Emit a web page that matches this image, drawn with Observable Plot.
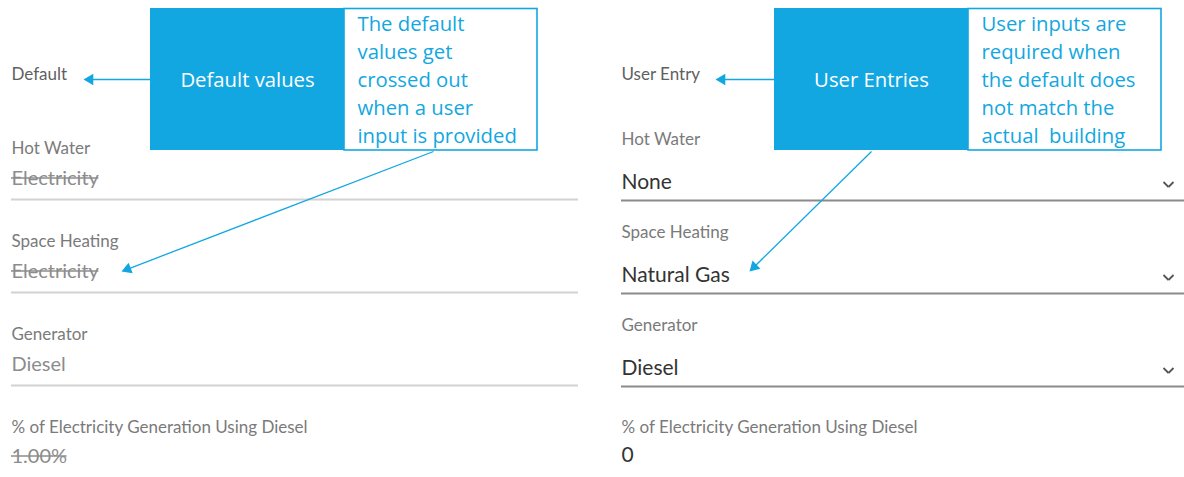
<!DOCTYPE html>
<html><head><meta charset="utf-8">
<script src="https://cdn.jsdelivr.net/npm/d3@7"></script>
<script src="https://cdn.jsdelivr.net/npm/@observablehq/plot@0.6"></script>
<style>body{margin:0;background:#fff}</style>
</head><body><div id="chart"></div>
<script>
// ---------- content ----------
const panelHeaders = ["Default", "User Entry"];
const fieldLabels = ["Hot Water", "Space Heating", "Generator", "% of Electricity Generation Using Diesel"];
const defaultValues = ["Electricity", "Electricity", "Diesel", "1.00%"];
const defaultCrossedOut = [true, true, false, true];
const userValues = ["None", "Natural Gas", "Diesel", "0"];
const userHasDropdown = [true, true, true, false];
const calloutTitles = ["Default values", "User Entries"];
const calloutNotes = [
  ["The default", "values get", "crossed out", "when a user", "input is provided"],
  ["User inputs are", "required when", "the default does", "not match the", "actual  building"]
];

// ---------- layout ----------
const W = 1184, H = 477;
const BLUE = "#12a7e1";
const UI = "Lato, 'Open Sans', sans-serif";
const CAL = "'Open Sans', Lato, sans-serif";
const LABEL_FS = 17, DEF_FS = 20, USER_FS = 21, CAL_FS = 20.3;
const headerY = 74, boxTop = 8, boxBottom = 150, boxW = 194, noteW = 193;
const layout = [
  {x: 11, lineEnd: 578, labelY: [148, 241, 334, 427], valueY: [178, 271, 364, 456], ruleY: [199, 292, 385],
   box: 150, tip: 83, diagFrom: [433, 151], diagTo: [121, 271]},
  {x: 621, lineEnd: 1184, labelY: [139, 232, 325, 427], valueY: [182, 275, 368, 455], ruleY: [200, 293, 386],
   box: 774, tip: 715, diagFrom: [871, 151], diagTo: [749, 271]}
];

const ctx = document.createElement("canvas").getContext("2d");
function textWidth(t, fs, family) { ctx.font = `${fs}px ${family}`; return ctx.measureText(t).width; }

const headers = panelHeaders.map((t, i) => ({t, x: layout[i].x, y: headerY}));
const labels = [];
fieldLabels.forEach((t, r) => layout.forEach(p => labels.push({t, x: p.x, y: p.labelY[r]})));
const defVals = defaultValues.map((t, r) => ({t, x: layout[0].x, y: layout[0].valueY[r], crossed: defaultCrossedOut[r]}));
const strikes = defVals.filter(d => d.crossed).map(d => ({x1: d.x, x2: d.x + textWidth(d.t, DEF_FS, UI), y: d.y - 0.5}));
const userVals = userValues.map((t, r) => ({t, x: layout[1].x, y: layout[1].valueY[r]}));
const defRules = layout[0].ruleY.map(y => ({x1: layout[0].x, x2: layout[0].lineEnd, y}));
const userRules = layout[1].ruleY.map(y => ({x1: layout[1].x, x2: layout[1].lineEnd, y}));
const chevrons = [];
userHasDropdown.forEach((d, r) => {
  if (!d) return;
  const cx = 1168, cy = layout[1].valueY[r] + 2;
  chevrons.push({x1: cx - 5, y1: cy - 2.5, x2: cx, y2: cy + 2.5});
  chevrons.push({x1: cx, y1: cy + 2.5, x2: cx + 5, y2: cy - 2.5});
});
const boxes = layout.map(p => ({x1: p.box, x2: p.box + boxW, y1: boxTop, y2: boxBottom}));
const noteBoxes = layout.map(p => ({x1: p.box + boxW, x2: p.box + boxW + noteW, y1: boxTop + 0.5, y2: boxBottom}));
const titles = calloutTitles.map((t, i) => ({t, x: layout[i].box + boxW / 2, y: 80}));
const notes = [];
calloutNotes.forEach((lines, i) => lines.forEach((t, k) => notes.push({t, x: layout[i].box + boxW + 13, y: 24 + k * 28})));

const arrows = [];
layout.forEach(p => {
  arrows.push({x1: p.box, y1: 79, x2: p.tip, y2: 79});
  arrows.push({x1: p.diagFrom[0], y1: p.diagFrom[1], x2: p.diagTo[0], y2: p.diagTo[1]});
});
const headR = 4.2;
const half = Math.sqrt(Math.PI * headR * headR / (3 * Math.sqrt(3)));
const heads = arrows.map(a => {
  const dx = a.x2 - a.x1, dy = a.y2 - a.y1, L = Math.hypot(dx, dy);
  const ux = dx / L, uy = dy / L;
  return {x: a.x2 - ux * 2 * half, y: a.y2 - uy * 2 * half, rot: Math.atan2(ux, -uy) * 180 / Math.PI};
});
const lines = arrows.map(a => {
  const dx = a.x2 - a.x1, dy = a.y2 - a.y1, L = Math.hypot(dx, dy);
  return {...a, x2: a.x2 - dx / L * 6, y2: a.y2 - dy / L * 6};
});

const chart = Plot.plot({
  width: W, height: H,
  margin: 0,
  x: {domain: [0, W], range: [0, W], axis: null},
  y: {domain: [0, H], range: [0, H], axis: null},
  style: {background: "#fff", fontFamily: UI, overflow: "visible"},
  marks: [
    Plot.ruleY(defRules, {x1: "x1", x2: "x2", y: "y", stroke: "#d2d2d2", strokeWidth: 2}),
    Plot.ruleY(userRules, {x1: "x1", x2: "x2", y: "y", stroke: "#8a8a8a", strokeWidth: 2}),
    Plot.link(chevrons, {x1: "x1", y1: "y1", x2: "x2", y2: "y2", stroke: "#555", strokeWidth: 1.8}),
    Plot.text(headers, {x: "x", y: "y", text: "t", textAnchor: "start", fontSize: LABEL_FS, fill: "#5f5f5f", fontFamily: UI}),
    Plot.text(labels, {x: "x", y: "y", text: "t", textAnchor: "start", fontSize: LABEL_FS, fill: "#7a7a7a", fontFamily: UI}),
    Plot.text(defVals, {x: "x", y: "y", text: "t", textAnchor: "start", fontSize: DEF_FS, fill: "#8c8c8c", fontFamily: UI}),
    Plot.ruleY(strikes, {x1: "x1", x2: "x2", y: "y", stroke: "#8c8c8c", strokeWidth: 1.5}),
    Plot.text(userVals, {x: "x", y: "y", text: "t", textAnchor: "start", fontSize: USER_FS, fill: "#333", fontFamily: UI}),
    Plot.rect(boxes, {x1: "x1", x2: "x2", y1: "y1", y2: "y2", fill: BLUE}),
    Plot.rect(noteBoxes, {x1: "x1", x2: "x2", y1: "y1", y2: "y2", fill: "#fff", stroke: BLUE, strokeWidth: 1.6}),
    Plot.text(titles, {x: "x", y: "y", text: "t", fontSize: CAL_FS, fill: "#fff", fontFamily: CAL}),
    Plot.text(notes, {x: "x", y: "y", text: "t", textAnchor: "start", fontSize: CAL_FS, fill: BLUE, fontFamily: CAL}),
    Plot.link(lines, {x1: "x1", y1: "y1", x2: "x2", y2: "y2", stroke: BLUE, strokeWidth: 1.3}),
    Plot.dot(heads, {x: "x", y: "y", rotate: "rot", symbol: "triangle", r: headR, fill: BLUE, stroke: "none"})
  ]
});
document.getElementById("chart").append(chart);
</script>
</body></html>
